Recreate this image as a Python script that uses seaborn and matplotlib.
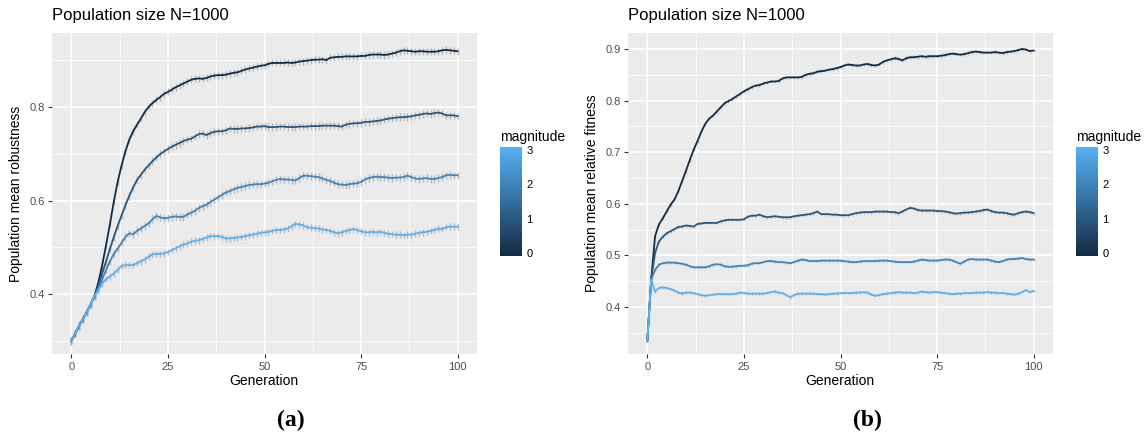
import numpy as np
import pandas as pd
import matplotlib
matplotlib.use("Agg")
import matplotlib.pyplot as plt
from matplotlib.colors import LinearSegmentedColormap, Normalize
from matplotlib.cm import ScalarMappable
from matplotlib.ticker import MultipleLocator
import seaborn as sns

# ---------------------------------------------------------------- data
generations = list(range(0, 101))
magnitudes = [0, 1, 2, 3]

robust_m0 = [0.300, 0.316, 0.332, 0.347, 0.362, 0.378, 0.396, 0.425, 0.462, 0.505,
             0.550, 0.598, 0.640, 0.675, 0.705, 0.730, 0.748, 0.762, 0.775, 0.789,
             0.800, 0.808, 0.815, 0.821, 0.828, 0.832, 0.837, 0.842, 0.846, 0.850,
             0.854, 0.858, 0.860, 0.861, 0.860, 0.862, 0.865, 0.867, 0.868, 0.868,
             0.869, 0.871, 0.873, 0.874, 0.877, 0.880, 0.882, 0.884, 0.886, 0.888,
             0.889, 0.892, 0.894, 0.894, 0.894, 0.894, 0.895, 0.894, 0.895, 0.897,
             0.898, 0.899, 0.900, 0.901, 0.901, 0.902, 0.900, 0.905, 0.906, 0.907,
             0.907, 0.908, 0.908, 0.908, 0.908, 0.909, 0.909, 0.911, 0.912, 0.912,
             0.912, 0.911, 0.912, 0.914, 0.916, 0.919, 0.921, 0.920, 0.919, 0.918,
             0.919, 0.919, 0.918, 0.918, 0.918, 0.919, 0.921, 0.922, 0.921, 0.920,
             0.919]
robust_m1 = [0.300, 0.316, 0.332, 0.347, 0.362, 0.378, 0.396, 0.418, 0.445, 0.470,
             0.497, 0.522, 0.546, 0.568, 0.590, 0.610, 0.628, 0.644, 0.655, 0.666,
             0.675, 0.684, 0.692, 0.699, 0.705, 0.710, 0.715, 0.719, 0.723, 0.727,
             0.730, 0.732, 0.737, 0.742, 0.743, 0.740, 0.744, 0.747, 0.748, 0.748,
             0.750, 0.754, 0.753, 0.753, 0.754, 0.754, 0.755, 0.756, 0.758, 0.758,
             0.759, 0.757, 0.757, 0.757, 0.758, 0.758, 0.757, 0.757, 0.757, 0.758,
             0.758, 0.758, 0.759, 0.759, 0.759, 0.760, 0.760, 0.760, 0.760, 0.759,
             0.758, 0.762, 0.764, 0.765, 0.765, 0.766, 0.768, 0.768, 0.769, 0.770,
             0.771, 0.773, 0.775, 0.776, 0.777, 0.778, 0.778, 0.779, 0.780, 0.782,
             0.783, 0.785, 0.786, 0.785, 0.787, 0.788, 0.786, 0.782, 0.782, 0.782,
             0.780]
robust_m2 = [0.300, 0.316, 0.332, 0.347, 0.362, 0.378, 0.396, 0.412, 0.432, 0.452,
             0.470, 0.486, 0.497, 0.510, 0.522, 0.530, 0.528, 0.535, 0.540, 0.546,
             0.551, 0.560, 0.567, 0.564, 0.562, 0.563, 0.565, 0.566, 0.565, 0.565,
             0.570, 0.574, 0.578, 0.584, 0.588, 0.591, 0.597, 0.602, 0.607, 0.612,
             0.617, 0.620, 0.624, 0.627, 0.629, 0.631, 0.633, 0.634, 0.635, 0.635,
             0.636, 0.638, 0.641, 0.644, 0.646, 0.645, 0.645, 0.644, 0.643, 0.648,
             0.653, 0.653, 0.652, 0.651, 0.650, 0.647, 0.644, 0.642, 0.638, 0.635,
             0.634, 0.633, 0.635, 0.636, 0.637, 0.640, 0.645, 0.648, 0.650, 0.651,
             0.650, 0.650, 0.649, 0.648, 0.649, 0.649, 0.650, 0.653, 0.650, 0.647,
             0.646, 0.647, 0.648, 0.646, 0.646, 0.648, 0.650, 0.654, 0.655, 0.654,
             0.654]
robust_m3 = [0.300, 0.316, 0.332, 0.347, 0.362, 0.378, 0.396, 0.408, 0.423, 0.432,
             0.438, 0.444, 0.452, 0.460, 0.462, 0.462, 0.462, 0.466, 0.470, 0.474,
             0.480, 0.485, 0.486, 0.486, 0.487, 0.490, 0.494, 0.498, 0.502, 0.506,
             0.508, 0.512, 0.514, 0.515, 0.518, 0.521, 0.524, 0.524, 0.524, 0.522,
             0.519, 0.519, 0.520, 0.521, 0.522, 0.524, 0.526, 0.527, 0.529, 0.531,
             0.532, 0.533, 0.535, 0.537, 0.537, 0.538, 0.540, 0.545, 0.550, 0.549,
             0.547, 0.543, 0.542, 0.541, 0.540, 0.538, 0.537, 0.535, 0.532, 0.530,
             0.532, 0.535, 0.537, 0.539, 0.537, 0.534, 0.532, 0.532, 0.533, 0.532,
             0.533, 0.531, 0.529, 0.528, 0.527, 0.527, 0.526, 0.527, 0.527, 0.529,
             0.531, 0.532, 0.533, 0.535, 0.537, 0.540, 0.539, 0.543, 0.544, 0.544,
             0.544]

fitness_m0 = [0.335, 0.453, 0.537, 0.560, 0.572, 0.585, 0.598, 0.608, 0.624, 0.644,
              0.664, 0.685, 0.705, 0.722, 0.740, 0.755, 0.765, 0.771, 0.779, 0.787,
              0.795, 0.799, 0.803, 0.808, 0.813, 0.818, 0.822, 0.826, 0.829, 0.830,
              0.833, 0.835, 0.837, 0.837, 0.838, 0.843, 0.845, 0.845, 0.845, 0.845,
              0.846, 0.850, 0.852, 0.853, 0.856, 0.857, 0.858, 0.860, 0.861, 0.863,
              0.865, 0.868, 0.870, 0.869, 0.868, 0.868, 0.870, 0.871, 0.869, 0.868,
              0.870, 0.875, 0.878, 0.880, 0.882, 0.881, 0.878, 0.882, 0.884, 0.884,
              0.885, 0.886, 0.885, 0.886, 0.886, 0.886, 0.887, 0.888, 0.890, 0.891,
              0.890, 0.889, 0.890, 0.892, 0.894, 0.895, 0.894, 0.893, 0.893, 0.893,
              0.894, 0.893, 0.892, 0.894, 0.895, 0.896, 0.898, 0.900, 0.899, 0.896,
              0.897]
fitness_m1 = [0.335, 0.453, 0.505, 0.527, 0.536, 0.543, 0.547, 0.551, 0.555, 0.556,
              0.558, 0.557, 0.556, 0.561, 0.562, 0.563, 0.563, 0.563, 0.563, 0.566,
              0.568, 0.569, 0.569, 0.569, 0.569, 0.570, 0.575, 0.577, 0.577, 0.579,
              0.576, 0.574, 0.575, 0.576, 0.575, 0.574, 0.574, 0.574, 0.576, 0.577,
              0.578, 0.579, 0.580, 0.582, 0.585, 0.580, 0.580, 0.580, 0.579, 0.579,
              0.578, 0.578, 0.578, 0.580, 0.582, 0.583, 0.584, 0.584, 0.584, 0.585,
              0.585, 0.585, 0.585, 0.584, 0.584, 0.582, 0.585, 0.589, 0.592, 0.591,
              0.588, 0.587, 0.587, 0.587, 0.587, 0.586, 0.586, 0.585, 0.584, 0.582,
              0.581, 0.582, 0.583, 0.583, 0.584, 0.585, 0.586, 0.588, 0.589, 0.586,
              0.584, 0.583, 0.583, 0.582, 0.580, 0.579, 0.582, 0.584, 0.585, 0.584,
              0.582]
fitness_m2 = [0.335, 0.453, 0.472, 0.482, 0.485, 0.486, 0.486, 0.486, 0.485, 0.484,
              0.482, 0.479, 0.477, 0.477, 0.477, 0.477, 0.479, 0.482, 0.483, 0.482,
              0.479, 0.478, 0.478, 0.479, 0.480, 0.480, 0.481, 0.484, 0.485, 0.485,
              0.487, 0.489, 0.489, 0.488, 0.487, 0.487, 0.486, 0.485, 0.487, 0.490,
              0.492, 0.491, 0.489, 0.489, 0.489, 0.490, 0.490, 0.490, 0.490, 0.490,
              0.490, 0.489, 0.488, 0.487, 0.487, 0.488, 0.489, 0.489, 0.489, 0.489,
              0.490, 0.490, 0.490, 0.489, 0.488, 0.487, 0.487, 0.487, 0.487, 0.488,
              0.490, 0.492, 0.491, 0.490, 0.490, 0.490, 0.491, 0.492, 0.492, 0.490,
              0.487, 0.484, 0.488, 0.492, 0.493, 0.492, 0.492, 0.492, 0.492, 0.490,
              0.488, 0.487, 0.489, 0.492, 0.493, 0.493, 0.494, 0.495, 0.493, 0.492,
              0.492]
fitness_m3 = [0.335, 0.453, 0.430, 0.437, 0.438, 0.437, 0.435, 0.432, 0.428, 0.426,
              0.428, 0.428, 0.427, 0.425, 0.423, 0.422, 0.423, 0.424, 0.425, 0.425,
              0.425, 0.425, 0.425, 0.426, 0.428, 0.427, 0.426, 0.426, 0.426, 0.426,
              0.426, 0.427, 0.429, 0.430, 0.428, 0.427, 0.423, 0.419, 0.423, 0.426,
              0.426, 0.426, 0.426, 0.426, 0.425, 0.425, 0.424, 0.425, 0.426, 0.426,
              0.427, 0.427, 0.427, 0.427, 0.428, 0.428, 0.429, 0.428, 0.424, 0.422,
              0.423, 0.425, 0.426, 0.427, 0.428, 0.429, 0.428, 0.428, 0.428, 0.427,
              0.428, 0.430, 0.429, 0.428, 0.429, 0.429, 0.428, 0.427, 0.426, 0.425,
              0.426, 0.426, 0.427, 0.427, 0.427, 0.428, 0.428, 0.428, 0.429, 0.428,
              0.428, 0.427, 0.427, 0.426, 0.425, 0.424, 0.426, 0.429, 0.433, 0.429,
              0.431]

# standard error (half-width of the error bars) per magnitude
robust_se = [0.0075, 0.008, 0.008, 0.007]
fitness_se = [0.0035, 0.003, 0.0025, 0.0025]

panel_title = "Population size N=1000"
x_label = "Generation"
robust_label = "Population mean robustness"
fitness_label = "Population mean relative fitness"
legend_title = "magnitude"
captions = ["(a)", "(b)"]


def long_frame(series, se):
    rows = []
    for mag, vals, err in zip(magnitudes, series, se):
        for g, v in zip(generations, vals):
            rows.append({"Generation": g, "value": v, "se": err, "magnitude": mag})
    return pd.DataFrame(rows)


df_robust = long_frame([robust_m0, robust_m1, robust_m2, robust_m3], robust_se)
df_fitness = long_frame([fitness_m0, fitness_m1, fitness_m2, fitness_m3], fitness_se)

# ---------------------------------------------------------------- style
sns.set_theme(style="darkgrid", rc={
    "axes.facecolor": "#EBEBEB",
    "grid.color": "white",
    "axes.edgecolor": "#EBEBEB",
    "axes.linewidth": 0,
})
plt.rcParams["font.family"] = ["Liberation Sans", "DejaVu Sans"]

cmap = LinearSegmentedColormap.from_list("ggblue", ["#132B43", "#56B1F7"])
norm = Normalize(vmin=0, vmax=3)

W, H = 1144, 432
fig = plt.figure(figsize=(W / 100, H / 100), dpi=100)


def fx(px):
    return px / W


def fy(py):
    return 1 - py / H


def draw_panel(df, left_px, ylim, major_y, ylab, ylab_x, cbar_left_px, caption, cap_x):
    ax = fig.add_axes([fx(left_px), fy(354), fx(425), 321 / H])
    # error bars underneath the lines
    ax.errorbar(df["Generation"], df["value"], yerr=df["se"], fmt="none",
                ecolor="#9A9A9A", alpha=0.6, elinewidth=1.0, capsize=0,
                zorder=2)
    sns.lineplot(data=df, x="Generation", y="value", hue="magnitude",
                 palette=cmap, hue_norm=norm, estimator=None, legend=False,
                 linewidth=1.3, ax=ax, zorder=3)
    ax.set_xlim(-5, 105)
    ax.set_ylim(*ylim)
    ax.xaxis.set_major_locator(MultipleLocator(25))
    ax.xaxis.set_minor_locator(MultipleLocator(12.5))
    ax.yaxis.set_major_locator(MultipleLocator(major_y))
    ax.yaxis.set_minor_locator(MultipleLocator(major_y / 2))
    ax.grid(which="major", color="white", linewidth=1.1)
    ax.grid(which="minor", color="white", linewidth=0.55)
    ax.set_axisbelow(True)
    ax.tick_params(which="major", length=3.2, width=0.8, color="#333333",
                   labelsize=8, labelcolor="#4D4D4D", pad=2.2,
                   bottom=True, left=True)
    ax.tick_params(which="minor", length=0, bottom=False, left=False)
    for s in ax.spines.values():
        s.set_visible(False)
    ax.set_xlabel("")
    ax.set_ylabel("")

    # titles and axis labels
    fig.text(fx(left_px), fy(20), panel_title, fontsize=12, va="baseline",
             ha="left", color="black")
    fig.text(fx(left_px + 212), fy(385), x_label, fontsize=10, va="baseline",
             ha="center", color="black")
    fig.text(fx(ylab_x), fy(193.5), ylab, fontsize=10, rotation=90,
             va="center", ha="center", color="black")

    # colour bar
    cax = fig.add_axes([fx(cbar_left_px), fy(256), fx(22), 109 / H])
    sm = ScalarMappable(norm=Normalize(vmin=-0.085, vmax=3.085), cmap=cmap)
    cb = fig.colorbar(sm, cax=cax, ticks=magnitudes)
    cb.outline.set_visible(False)
    cax.yaxis.set_ticks_position("both")
    cax.yaxis.set_label_position("right")
    cax.tick_params(direction="in", length=4.5, width=0.8, color="white",
                    labelsize=8, labelcolor="black", pad=3,
                    left=True, right=True, labelleft=False, labelright=True)
    cax.grid(False)
    fig.text(fx(cbar_left_px), fy(141), legend_title, fontsize=10,
             va="baseline", ha="left", color="black")

    fig.text(fx(cap_x), fy(426), caption, fontsize=17, fontweight="bold",
             family=["Liberation Serif", "DejaVu Serif"], va="baseline",
             ha="center", color="black")
    return ax


draw_panel(df_robust, 52, (0.272, 0.958), 0.2, robust_label, 16, 500,
           captions[0], 291)
draw_panel(df_fitness, 628, (0.309, 0.931), 0.1, fitness_label, 592, 1076,
           captions[1], 867)

fig.savefig("out.png", dpi=100, facecolor="white")
